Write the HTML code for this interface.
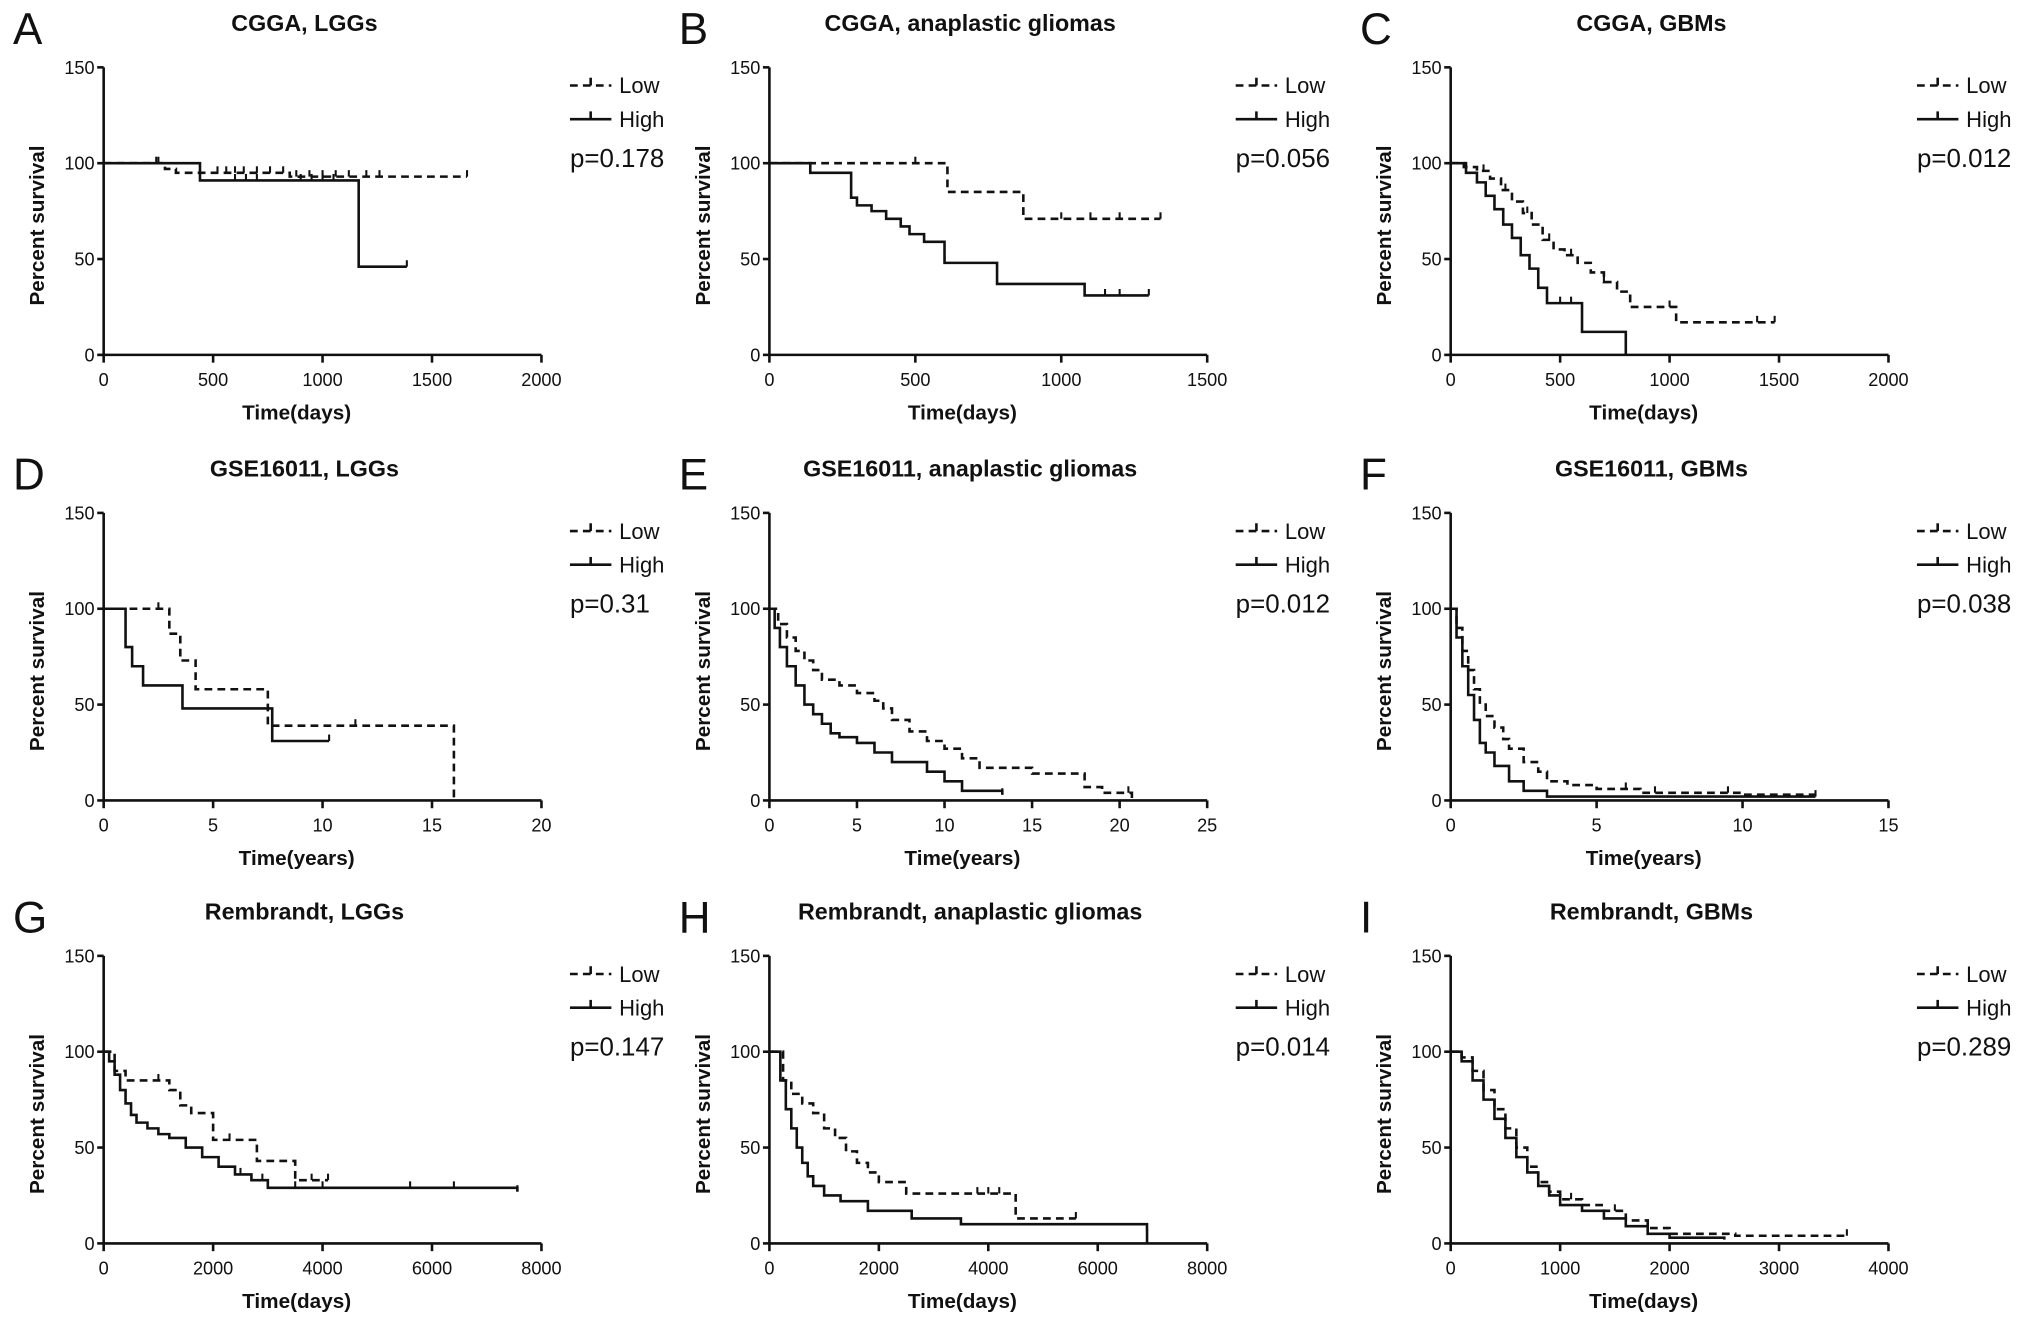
<!DOCTYPE html>
<html><head><meta charset="utf-8">
<style>
html,body{margin:0;padding:0;background:#fff;}
svg{display:block;}
text{font-family:"Liberation Sans",Arial,sans-serif;fill:#111;}
</style></head>
<body>
<svg id="fig" width="2031" height="1325" viewBox="0 0 1568 1023" xmlns="http://www.w3.org/2000/svg"></svg>
<script>
// ---- data (times, survival %) ----
const aLowT=[0,280,330,850,1660];            const aLowS=[100,97,95,93,93];
const aHighT=[0,440,1165,1385];               const aHighS=[100,91,46,46];
const aLowC=[240,520,560,600,640,700,760,820,880,940,1000,1060,1120,1200,1260,1660];
const aHighC=[250,600,650,700,900,950,1000,1050,1385];
const bLowT=[0,610,870,1340];                 const bLowS=[100,85,71,71];
const bHighT=[0,140,280,300,350,400,450,480,530,600,780,1080,1300];
const bHighS=[100,95,82,78,75,71,67,63,59,48,37,31,31];
const bLowC=[500,1000,1100,1200,1340];        const bHighC=[600,1150,1200,1300];
const cLowT=[0,60,120,180,230,280,330,370,420,470,520,580,640,700,760,820,1030,1480];
const cLowS=[100,98,96,92,86,80,74,68,60,55,52,48,43,38,33,25,17,17];
const cHighT=[0,70,120,160,200,240,280,320,360,400,440,600,800];
const cHighS=[100,95,90,83,76,68,61,52,45,35,27,12,0];
const cLowC=[150,250,350,450,550,700,1000,1400,1480];  const cHighC=[500,550];
const dLowT=[0,3,3.5,4.2,7.5,16,16.01];       const dLowS=[100,87,73,58,39,0,0];
const dHighT=[0,1,1.3,1.8,3.6,7.7,10.3];      const dHighS=[100,80,70,60,48,31,31];
const dLowC=[2.5,11.5];                       const dHighC=[10.3];
const eLowT=[0,0.5,1,1.5,2,2.5,3,4,5,6,6.5,7,8,9,10,11,12,15,18,19,20.7];
const eLowS=[100,92,85,78,73,68,63,60,56,52,48,42,36,31,27,22,17,14,7,4,0];
const eHighT=[0,0.3,0.6,1,1.5,2,2.5,3,3.5,4,5,6,7,9,10,11,13.3];
const eHighS=[100,90,80,70,60,50,45,40,35,33,30,25,20,15,10,5,3];
const eLowC=[20.5];                           const eHighC=[13.3];
const fLowT=[0,0.2,0.4,0.6,0.8,1,1.2,1.5,1.8,2,2.5,3,3.3,4,5,6.5,10,12.5];
const fLowS=[100,90,78,68,58,50,44,38,32,27,20,15,10,8,6,4,3,3];
const fHighT=[0,0.2,0.4,0.6,0.8,1,1.2,1.5,2,2.5,3.3,12.5];
const fHighS=[100,85,70,55,42,30,25,18,10,5,2,2];
const fLowC=[6,7,9.5];                        const fHighC=[12.5];
const gLowT=[0,200,400,1200,1400,1600,2000,2800,3500,4100];
const gLowS=[100,90,85,80,72,68,54,43,33,33];
const gHighT=[0,100,200,300,400,500,600,800,1000,1200,1500,1800,2100,2400,2700,3000,7560];
const gHighS=[100,95,88,80,73,67,63,60,57,55,50,45,40,36,33,29,27];
const gLowC=[1000,2300,3800,4100];            const gHighC=[2500,2900,3500,4000,5600,6400,7560];
const hLowT=[0,250,400,600,800,1000,1200,1400,1600,1800,2000,2500,4500,5600];
const hLowS=[100,85,78,73,68,60,55,48,42,37,32,26,13,13];
const hHighT=[0,200,300,400,500,600,700,800,1000,1300,1800,2600,3500,6900,6901];
const hHighS=[100,85,70,60,50,42,35,30,25,22,17,13,10,7,0];
const hLowC=[3800,4000,4200,5600];            const hHighC=[];
const iLowT=[0,100,200,300,400,500,600,700,800,900,1000,1200,1400,1600,1800,2000,2600,3620];
const iLowS=[100,97,90,80,70,60,50,40,32,27,23,20,17,12,8,5,4,4];
const iHighT=[0,100,200,300,400,500,600,700,800,900,1000,1200,1400,1600,1800,2000,2500];
const iHighS=[100,95,85,75,65,55,45,37,30,25,20,17,13,9,5,3,2];
const iLowC=[1100,1500,3620];                 const iHighC=[800,1200];
const yTicks=[0,50,100,150];

const panels=[
 {id:'a',L:'A',title:'CGGA, LGGs',col:0,row:0,xmax:2000,xt:[0,500,1000,1500,2000],xl:'Time(days)',p:'p=0.178',lt:aLowT,ls:aLowS,ht:aHighT,hs:aHighS,lc:aLowC,hc:aHighC},
 {id:'b',L:'B',title:'CGGA, anaplastic gliomas',col:1,row:0,xmax:1500,xt:[0,500,1000,1500],xl:'Time(days)',p:'p=0.056',lt:bLowT,ls:bLowS,ht:bHighT,hs:bHighS,lc:bLowC,hc:bHighC},
 {id:'c',L:'C',title:'CGGA, GBMs',col:2,row:0,xmax:2000,xt:[0,500,1000,1500,2000],xl:'Time(days)',p:'p=0.012',lt:cLowT,ls:cLowS,ht:cHighT,hs:cHighS,lc:cLowC,hc:cHighC},
 {id:'d',L:'D',title:'GSE16011, LGGs',col:0,row:1,xmax:20,xt:[0,5,10,15,20],xl:'Time(years)',p:'p=0.31',lt:dLowT,ls:dLowS,ht:dHighT,hs:dHighS,lc:dLowC,hc:dHighC},
 {id:'e',L:'E',title:'GSE16011, anaplastic gliomas',col:1,row:1,xmax:25,xt:[0,5,10,15,20,25],xl:'Time(years)',p:'p=0.012',lt:eLowT,ls:eLowS,ht:eHighT,hs:eHighS,lc:eLowC,hc:eHighC},
 {id:'f',L:'F',title:'GSE16011, GBMs',col:2,row:1,xmax:15,xt:[0,5,10,15],xl:'Time(years)',p:'p=0.038',lt:fLowT,ls:fLowS,ht:fHighT,hs:fHighS,lc:fLowC,hc:fHighC},
 {id:'g',L:'G',title:'Rembrandt, LGGs',col:0,row:2,xmax:8000,xt:[0,2000,4000,6000,8000],xl:'Time(days)',p:'p=0.147',lt:gLowT,ls:gLowS,ht:gHighT,hs:gHighS,lc:gLowC,hc:gHighC},
 {id:'h',L:'H',title:'Rembrandt, anaplastic gliomas',col:1,row:2,xmax:8000,xt:[0,2000,4000,6000,8000],xl:'Time(days)',p:'p=0.014',lt:hLowT,ls:hLowS,ht:hHighT,hs:hHighS,lc:hLowC,hc:hHighC},
 {id:'i',L:'I',title:'Rembrandt, GBMs',col:2,row:2,xmax:4000,xt:[0,1000,2000,3000,4000],xl:'Time(days)',p:'p=0.289',lt:iLowT,ls:iLowS,ht:iHighT,hs:iHighS,lc:iLowC,hc:iHighC}
];
const colX=[80,594,1120], rowY=[52,396,738], W=338, H=222;
const NS='http://www.w3.org/2000/svg', svg=document.getElementById('fig');
function mk(tag,attrs,parent,txt){const e=document.createElementNS(NS,tag);for(const k in attrs)e.setAttribute(k,attrs[k]);if(txt!==undefined)e.textContent=txt;parent.appendChild(e);return e;}
function survAt(T,S,t){let v=S[0];for(let i=0;i<T.length;i++){if(T[i]<=t)v=S[i];}return v;}

panels.forEach(pn=>{
  const x0=colX[pn.col], y0=rowY[pn.row]+H;
  const sx=t=>x0+t/pn.xmax*W, sy=v=>y0-v/150*H;
  const g=mk('g',{},svg);
  
  
  const lt=mk('text',{x:x0-70,y:rowY[pn.row]-18,'font-size':34},g,pn.L);
  
  
  const tt=mk('text',{x:x0+W/2-14,y:rowY[pn.row]-28,'font-size':18,'font-weight':'bold','text-anchor':'middle'},g,pn.title);
  
  
  // axes
  const ax=mk('path',{d:`M${x0},${sy(150)}V${y0}H${x0+W}`,stroke:'#111','stroke-width':2,fill:'none'},g);
  
  
  yTicks.forEach(v=>{
    mk('line',{x1:x0-5,x2:x0,y1:sy(v),y2:sy(v),stroke:'#111','stroke-width':2},g);
    const t=mk('text',{x:x0-7,y:sy(v)+5,'font-size':14,'text-anchor':'end'},g,v);
    
    
  });
  pn.xt.forEach(v=>{
    mk('line',{x1:sx(v),x2:sx(v),y1:y0,y2:y0+6,stroke:'#111','stroke-width':2},g);
    const t=mk('text',{x:sx(v),y:y0+24,'font-size':14,'text-anchor':'middle'},g,v);
    
    
  });
  const xl=mk('text',{x:x0+W/2-20,y:y0+50,'font-size':16,'font-weight':'bold','text-anchor':'middle'},g,pn.xl);
  
  
  const yy=rowY[pn.row]+H*0.55;
  const yl=mk('text',{x:0,y:0,'font-size':16,'font-weight':'bold','text-anchor':'middle',transform:`translate(${x0-46},${yy}) rotate(-90)`},g,'Percent survival');
  
  
  // curves
  [['low',pn.lt,pn.ls,pn.lc,'6,4'],['high',pn.ht,pn.hs,pn.hc,'none']].forEach(([nm,T,S,C,da])=>{
    let d=`M${sx(T[0])},${sy(S[0])}`;
    for(let i=1;i<T.length;i++){d+=`H${sx(T[i])}V${sy(S[i])}`;}
    const p=mk('path',{d:d,stroke:'#111','stroke-width':2,fill:'none','stroke-dasharray':da},g);
    
    
    C.forEach(c=>{
      const v=survAt(T,S,c);
      const l=mk('line',{x1:sx(c),x2:sx(c),y1:sy(v)-5,y2:sy(v),stroke:'#111','stroke-width':1.6},g);
      
      
    });
  });
  // legend
  const lx=x0+W+22+(pn.col===2?0:0), ly=rowY[pn.row]+14;
  const lg=mk('g',{},g);
  
  
  mk('line',{x1:lx,x2:lx+32,y1:ly,y2:ly,stroke:'#111','stroke-width':2,'stroke-dasharray':'6,4'},lg);
  mk('line',{x1:lx+16,x2:lx+16,y1:ly-6,y2:ly,stroke:'#111','stroke-width':2},lg);
  mk('text',{x:lx+38,y:ly+6,'font-size':17},lg,'Low');
  mk('line',{x1:lx,x2:lx+32,y1:ly+26,y2:ly+26,stroke:'#111','stroke-width':2},lg);
  mk('line',{x1:lx+16,x2:lx+16,y1:ly+20,y2:ly+26,stroke:'#111','stroke-width':2},lg);
  mk('text',{x:lx+38,y:ly+32,'font-size':17},lg,'High');
  const pv=mk('text',{x:lx,y:ly+63,'font-size':20},g,pn.p);
  
  
});
</script>
</body></html>
